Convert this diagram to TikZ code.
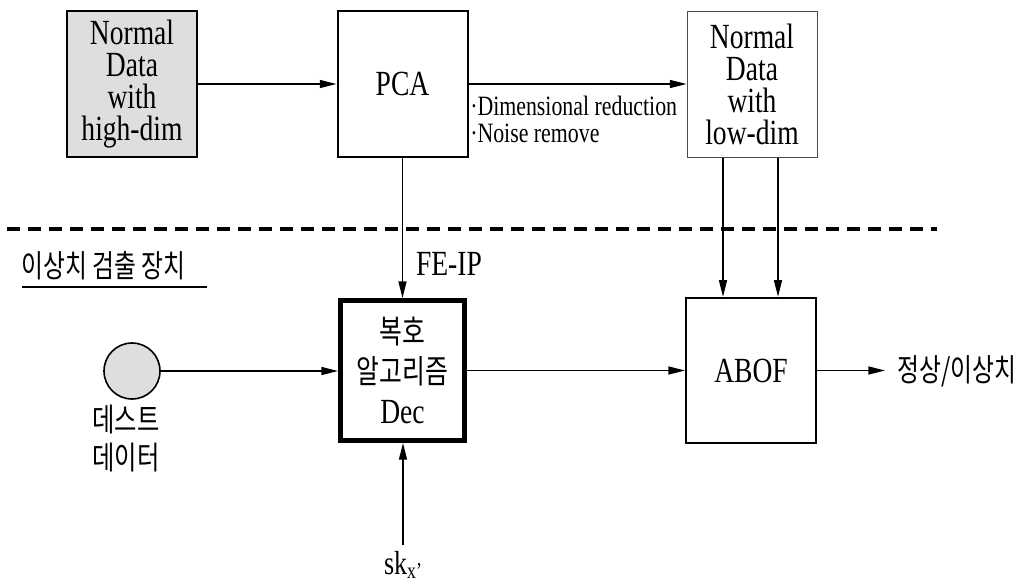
\documentclass[tikz,border=0pt]{standalone}
\usepackage{fontspec}
\setmainfont[FakeStretch=0.78]{Liberation Serif}
\newfontfamily\kr[FakeStretch=0.76]{Noto Sans CJK KR}
\usetikzlibrary{arrows.meta,positioning,calc}
\tikzset{databox/.style={draw,align=center,minimum width=97.5pt,minimum height=109pt,
  font=\fontsize{26.5}{24}\selectfont,inner sep=0pt},
  box/.style={databox,line width=1.5pt},
  decbox/.style={databox,line width=3.75pt,minimum width=93pt,minimum height=105pt,
  font=\fontsize{26.5}{30}\selectfont},
  lbl/.style={font=\fontsize{26.5}{24}\selectfont,inner sep=0pt},
  note/.style={font=\fontsize{21}{22}\selectfont,inner sep=0pt,anchor=base west},
  krlbl/.style={font=\kr\fontsize{24}{28.5}\selectfont,align=center,inner sep=0pt},
  arrow/.style={-{Triangle[length=12.5pt,width=6pt]},line width=1pt}}

\begin{document}
\begin{tikzpicture}[x=0.75pt,y=-0.75pt]
\useasboundingbox (0,0) rectangle (1028,586);
\node[databox,fill=black!13,line width=1.3pt] (high) at (132,84) {Normal\\Data\\with\\high-dim};
\node[box] (pca) at (402.5,84) {PCA};
\node[databox,draw=black!70,line width=0.6pt] (low) at (752,84.5) {Normal\\Data\\with\\low-dim};
\node[note] (dimred) at (470,115) {·Dimensional reduction};
\node[note] (noise) at (470,142) {·Noise remove};
\draw[line width=2.3pt,dash pattern=on 9.75pt off 6pt] (7,229) -- (937,229);
\node[krlbl,font=\kr\fontsize{23.5}{24}\selectfont,anchor=west] (device) at (21,266) {이상치 검출 장치};
\draw[line width=0.9pt] (22,287) -- (207,287);
\node[lbl] (feip) at (449,264) {FE-IP};
\node[decbox] (dec) at (402.5,370.5) {{\kr\fontsize{24.5}{30}\selectfont 복호}\\{\kr\fontsize{24.5}{30}\selectfont 알고리즘}\\Dec};
\node[box] (abof) at (751,370.5) {ABOF};
\node[circle,draw,line width=1.2pt,fill=black!13,minimum size=42pt,inner sep=0pt] (test) at (132,371) {};
\node[krlbl] (testlbl) at (126,439) {데스트\\데이터};
\node[lbl,font=\fontsize{25}{24}\selectfont,anchor=base] (sk) at (403,574) {sk\raisebox{-3pt}{\fontsize{17}{17}\selectfont x'}};
\coordinate (skin) at (403,545);
\node[krlbl,font=\kr\fontsize{23.5}{24}\selectfont,anchor=west,inner xsep=9pt] (result) at (885,371) {정상/이상치};
\draw[arrow] (high) -- (pca);
\draw[arrow] (pca.east) -- (pca.east -| low.west);
\draw[arrow] ([xshift=-21.75pt]low.south) -- ([xshift=-21.75pt]low.south |- abof.north);
\draw[arrow] ([xshift=19.5pt]low.south) -- ([xshift=19.5pt]low.south |- abof.north);
\draw[arrow] (pca) -- (dec);
\draw[arrow] (test.east) -- (test.east -| dec.west);
\draw[arrow] (dec) -- (abof);
\draw[arrow] (abof.east) -- (abof.east -| result.west);
\draw[arrow] (skin) -- (skin |- dec.south);
\end{tikzpicture}
\end{document}
